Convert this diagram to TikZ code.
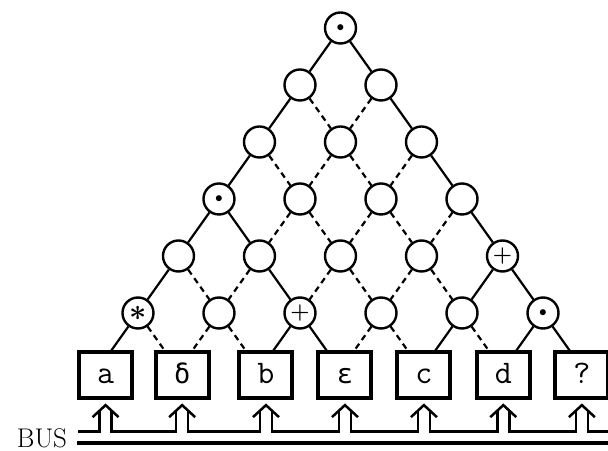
\RequirePackage{fix-cm}
\documentclass[tikz,border=0pt]{standalone}
\usepackage{amsmath}
\usepackage{fontspec}
\newfontfamily\greekmono{DejaVu Sans Mono}
\usepackage{tikz}
\usetikzlibrary{positioning}

\begin{document}
\begin{tikzpicture}[x=40.5pt,y=57pt,
  op/.style={draw,circle,minimum size=31pt,inner sep=0pt,line width=2.4pt,fill=white,font=\fontsize{22}{22}\selectfont},
  reg/.style={draw,line width=4pt,minimum width=53pt,minimum height=46pt,inner sep=0pt,fill=white,text height=16pt,text depth=0pt,font=\fontsize{33}{33}\selectfont\ttfamily},
  used/.style={line width=2.2pt},
  unused/.style={line width=2.2pt,dash pattern=on 6pt off 4.5pt},
  pipe/.style={line width=2.5pt}]
\useasboundingbox (-2.407,-1.421) rectangle (12.605,6.491);
\node[op] (c60) at (6,6){$\scriptstyle\bullet$};
\node[op] (c50) at (5,5){};
\node[op] (c51) at (7,5){};
\node[op] (c40) at (4,4){};
\node[op] (c41) at (6,4){};
\node[op] (c42) at (8,4){};
\node[op] (c30) at (3,3){$\scriptstyle\bullet$};
\node[op] (c31) at (5,3){};
\node[op] (c32) at (7,3){};
\node[op] (c33) at (9,3){};
\node[op] (c20) at (2,2){};
\node[op] (c21) at (4,2){};
\node[op] (c22) at (6,2){};
\node[op] (c23) at (8,2){};
\node[op] (c24) at (10,2){$\boldsymbol{+}$};
\node[op,font=\fontsize{30}{30}\selectfont] (c10) at (1,1){$\boldsymbol{\ast}$};
\node[op] (c11) at (3,1){};
\node[op] (c12) at (5,1){$\boldsymbol{+}$};
\node[op] (c13) at (7,1){};
\node[op] (c14) at (9,1){};
\node[op] (c15) at (11,1){$\scriptstyle\bullet$};
\coordinate (v0) at (0,0);
\coordinate (v1) at (2,0);
\coordinate (v2) at (4,0);
\coordinate (v3) at (6,0);
\coordinate (v4) at (8,0);
\coordinate (v5) at (10,0);
\coordinate (v6) at (12,0);
\draw[used] (c60)--(c50) (c60)--(c51) (c50)--(c40) (c51)--(c42) (c40)--(c30) (c42)--(c33)
  (c30)--(c20) (c30)--(c21) (c33)--(c24) (c20)--(c10) (c21)--(c12) (c24)--(c14) (c24)--(c15)
  (c10)--(v0) (c12)--(v2) (c12)--(v3) (c14)--(v4) (c15)--(v5) (c15)--(v6);
\draw[unused] (c50)--(c41) (c51)--(c41) (c40)--(c31) (c41)--(c31) (c41)--(c32) (c42)--(c32)
  (c31)--(c21) (c31)--(c22) (c32)--(c22) (c32)--(c23) (c33)--(c23) (c20)--(c11) (c21)--(c11)
  (c22)--(c12) (c22)--(c13) (c23)--(c13) (c23)--(c14) (c10)--(v1) (c11)--(v1) (c11)--(v2)
  (c13)--(v3) (c13)--(v4) (c14)--(v5);
\node[reg] (ba) at (0.2,-0.09){a};
\node[reg] (bdelta) at (2.09,-0.09){\greekmono\fontsize{27}{27}\selectfont δ};
\node[reg] (bb) at (4.16,-0.09){b};
\node[reg] (beps) at (6.11,-0.09){\greekmono\fontsize{27}{27}\selectfont ε};
\node[reg] (bc) at (8.06,-0.09){c};
\node[reg] (bd) at (10.02,-0.09){d};
\node[reg] (bq) at (11.96,-0.09){?};
\coordinate (busw) at (-0.48,-1.0825);
\coordinate (buse) at (12.8,-1.0825);
\coordinate (bussw) at (-0.5,-1.281);
\coordinate (busse) at (12.8,-1.281);
\node[left=10pt of bussw,yshift=5pt,inner sep=0pt,font=\fontsize{27}{27}\selectfont] (bus) {BUS};
\draw[line width=3.5pt] (bussw) -- (busse);
\draw[pipe] (busw) -| ([xshift=-6pt,yshift=-10pt]ba.south);
\foreach \p/\n in {ba/bdelta,bdelta/bb,bb/beps,beps/bc,bc/bd,bd/bq}
  \draw[pipe] ([xshift=6pt,yshift=-10pt]\p.south) |- ([xshift=-6pt]\n.south |- busw) -- ([xshift=-6pt,yshift=-10pt]\n.south);
\draw[pipe] ([xshift=6pt,yshift=-10pt]bq.south) |- (buse);
\foreach \b in {ba,bdelta,bb,beps,bc,bd,bq}
  \draw[pipe] ([xshift=-13pt,yshift=-17pt]\b.south) -- ([yshift=-5pt]\b.south) -- ([xshift=13pt,yshift=-17pt]\b.south);
\end{tikzpicture}
\end{document}
